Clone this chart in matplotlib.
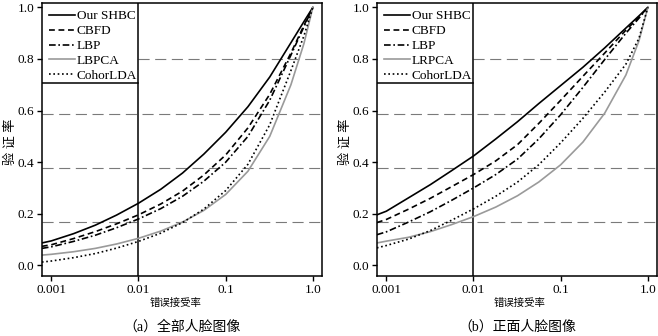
import numpy as np
import matplotlib

matplotlib.use("Agg")
import matplotlib.pyplot as plt

plt.rcParams["font.family"] = ["Liberation Serif", "Noto Sans CJK SC"]

# ---------------- Data ----------------
far = [0.00078, 0.001, 0.0018, 0.0032, 0.0056, 0.01, 0.018, 0.032,
       0.056, 0.1, 0.18, 0.32, 0.56, 0.79, 1.0]

# (a) all face images
shbc_a = [0.087, 0.095, 0.123, 0.156, 0.195, 0.241, 0.295, 0.358, 0.431, 0.516, 0.615, 0.730, 0.863, 0.945, 1.0]
cbfd_a = [0.074, 0.080, 0.104, 0.131, 0.161, 0.196, 0.238, 0.288, 0.350, 0.428, 0.533, 0.663, 0.823, 0.930, 1.0]
lbp_a = [0.066, 0.072, 0.093, 0.117, 0.146, 0.180, 0.220, 0.268, 0.326, 0.400, 0.500, 0.640, 0.815, 0.925, 1.0]
lbpca_a = [0.040, 0.043, 0.053, 0.066, 0.083, 0.105, 0.133, 0.168, 0.213, 0.275, 0.365, 0.500, 0.700, 0.860, 1.0]
cohor_a = [0.013, 0.017, 0.030, 0.046, 0.067, 0.093, 0.125, 0.166, 0.218, 0.290, 0.392, 0.545, 0.755, 0.890, 1.0]

# (b) frontal face images
shbc_b = [0.196, 0.210, 0.262, 0.313, 0.367, 0.424, 0.490, 0.557, 0.627, 0.697, 0.768, 0.843, 0.920, 0.967, 1.0]
cbfd_b = [0.166, 0.178, 0.218, 0.260, 0.305, 0.352, 0.405, 0.468, 0.550, 0.640, 0.733, 0.823, 0.912, 0.962, 1.0]
lbp_b = [0.119, 0.130, 0.168, 0.208, 0.252, 0.300, 0.352, 0.412, 0.490, 0.584, 0.690, 0.798, 0.900, 0.958, 1.0]
lrpca_b = [0.087, 0.094, 0.109, 0.131, 0.158, 0.189, 0.226, 0.270, 0.323, 0.390, 0.478, 0.590, 0.738, 0.870, 1.0]
cohor_b = [0.068, 0.077, 0.102, 0.135, 0.175, 0.219, 0.268, 0.323, 0.390, 0.475, 0.570, 0.672, 0.780, 0.880, 1.0]

labels_a = ["Our SHBC", "CBFD", "LBP", "LBPCA", "CohorLDA"]
labels_b = ["Our SHBC", "CBFD", "LBP", "LRPCA", "CohorLDA"]

xticks = [0.001, 0.01, 0.1, 1.0]
xticklabels = ["0.001", "0.01", "0.1", "1.0"]
yticks = [0.0, 0.2, 0.4, 0.6, 0.8, 1.0]
hlines = [0.80, 0.586, 0.378, 0.168]

ylabel = "验 证 率"
xlabel = "错误接受率"
captions = ["（a）全部人脸图像", "（b）正面人脸图像"]

# ---------------- Styles ----------------
styles = [
    dict(color="black", linestyle="-"),
    dict(color="black", linestyle=(0, (3.5, 2.2))),
    dict(color="black", linestyle=(0, (4, 1.6, 1, 1.6))),
    dict(color="#9a9a9a", linestyle="-"),
    dict(color="black", linestyle=(0, (1, 1.6))),
]
lw = 1.2
xmin, xmax = 10 ** -3.11, 10 ** 0.105
ymin, ymax = -0.041, 1.017
box_bottom = 0.707
box_right = (np.log10(0.01) - np.log10(xmin)) / (np.log10(xmax) - np.log10(xmin))

fig = plt.figure(figsize=(6.58, 3.36), dpi=100)
ax_a = fig.add_axes([0.0634, 0.1786, 0.426, 0.8125])
ax_b = fig.add_axes([0.5725, 0.1786, 0.426, 0.8125])

panels = [
    (ax_a, [shbc_a, cbfd_a, lbp_a, lbpca_a, cohor_a], labels_a),
    (ax_b, [shbc_b, cbfd_b, lbp_b, lrpca_b, cohor_b], labels_b),
]

for ax, series, labels in panels:
    for ys, lab, st in zip(series, labels, styles):
        ax.plot(far, ys, lw=lw, label=lab, **st)

    ax.set_xscale("log")
    ax.set_xlim(xmin, xmax)
    ax.set_ylim(ymin, ymax)
    ax.set_xticks(xticks)
    ax.set_xticklabels(xticklabels)
    ax.minorticks_off()
    ax.set_yticks(yticks)
    ax.set_yticklabels([f"{v:.1f}" for v in yticks])
    ax.tick_params(axis="both", direction="out", length=3.5, width=1.0,
                   labelsize=9.5, pad=2)

    for sp in ax.spines.values():
        sp.set_linewidth(1.1)

    # gray dashed reference lines, hidden behind the legend box
    for h in hlines:
        start = box_right if h > box_bottom else 0.0
        ax.axhline(h, xmin=start, xmax=1, color="#7a7a7a", lw=0.8,
                   linestyle=(0, (10, 5)), zorder=0)

    # vertical line at FAR = 0.01 and the legend box bottom edge
    ax.axvline(0.01, color="black", lw=1.1, zorder=1)
    ax.axhline(box_bottom, xmin=0, xmax=box_right, color="black", lw=1.1)

    leg = ax.legend(loc="upper left", bbox_to_anchor=(0, 1), borderaxespad=0,
                    frameon=False, fontsize=9.5, handlelength=2.0,
                    handletextpad=0.1, labelspacing=0.2, borderpad=0.55)

# ---------------- Axis labels and captions ----------------
xlabel_shift = [-0.009, 0.004]
for ax, cap, dx in zip([ax_a, ax_b], captions, xlabel_shift):
    pos = ax.get_position()
    cx = (pos.x0 + pos.x1) / 2
    fig.text(cx + dx, 0.098, xlabel, ha="center", va="center", fontsize=7.5)
    fig.text(cx, 0.028, cap, ha="center", va="center", fontsize=10)
    fig.text(pos.x0 - 0.047, 0.577, ylabel, ha="center", va="center",
             rotation=90, fontsize=9.5)

fig.savefig("out.png", dpi=100)
